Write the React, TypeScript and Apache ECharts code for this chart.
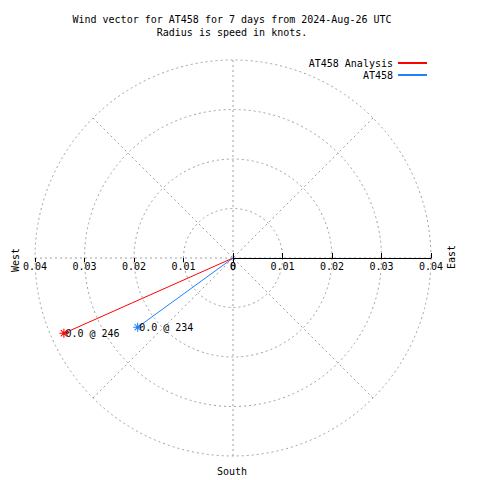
import React, { useEffect, useRef } from 'react';
import * as echarts from 'echarts';

const titleLines = ['Wind vector for AT458 for 7 days from 2024-Aug-26 UTC', 'Radius is speed in knots.'];
const seriesNames = ['AT458 Analysis', 'AT458'];
const seriesColors = ['#ff0000', '#1e80ff'];
const speeds = [0.0374, 0.0238];
const directions = [246, 234];
const speedLabels = ['0.0', '0.0'];
const radiusMin = 0;
const radiusMax = 0.04;
const radiusStep = 0.01;
const compassLabels = ['West', 'East', 'South'];

const FONT = '"DejaVu Sans Mono", monospace';
const ASTERISK =
  'path://M-0.6,-5L0.6,-5L0.6,5L-0.6,5Z M-5,-0.6L5,-0.6L5,0.6L-5,0.6Z M-3.9,-3.1L-3.1,-3.9L3.9,3.1L3.1,3.9Z M3.1,-3.9L3.9,-3.1L-3.1,3.9L-3.9,3.1Z';

const gridLine = { color: '#a0a0a0', type: [2, 3] as number[], width: 1 };
const tickFmt = (v: number) => (v === 0 ? '0' : v.toFixed(2));

export default function App() {
  const ref = useRef<HTMLDivElement>(null);
  useEffect(() => {
    if (!ref.current) return;
    const chart = echarts.init(ref.current, undefined, { renderer: 'svg' });
    const center = [233, 258];
    const radius = 198;
    const baseRadius = { type: 'value', min: radiusMin, max: radiusMax, interval: radiusStep };
    const labelStyle = { color: '#000', fontFamily: FONT, fontSize: 10 };
    chart.setOption({
      animation: false,
      backgroundColor: '#fff',
      title: {
        text: titleLines.join('\n'),
        left: 232,
        top: 13,
        padding: 0,
        textAlign: 'center',
        textStyle: { fontFamily: FONT, fontSize: 10, fontWeight: 'normal', color: '#000', lineHeight: 13 },
      },
      legend: {
        orient: 'vertical',
        right: 53,
        top: 57,
        padding: 0,
        align: 'right',
        itemWidth: 29,
        itemHeight: 2,
        itemGap: 0,
        icon: 'rect',
        data: seriesNames,
        textStyle: { fontFamily: FONT, fontSize: 10, color: '#000', lineHeight: 12 },
      },
      polar: [
        { center, radius },
        { center, radius },
        { center, radius },
        { center, radius },
      ],
      angleAxis: [
        {
          polarIndex: 0,
          type: 'value',
          startAngle: 0,
          clockwise: true,
          min: 90,
          max: 450,
          interval: 45,
          axisLine: { show: false },
          axisTick: { show: false },
          axisLabel: { show: false },
          splitLine: { show: true, lineStyle: gridLine },
        },
        { polarIndex: 1, type: 'value', startAngle: 0, min: 0, max: 360, show: false },
        { polarIndex: 2, type: 'value', startAngle: 180, min: 0, max: 360, show: false },
        { polarIndex: 3, type: 'value', startAngle: 180, min: 0, max: 360, show: false },
      ],
      radiusAxis: [
        {
          polarIndex: 0,
          ...baseRadius,
          axisLine: { show: true, lineStyle: { color: '#000', width: 1 } },
          axisTick: { show: true, length: 5, lineStyle: { color: '#000', width: 1 } },
          axisLabel: { show: true, margin: -3, align: 'center', verticalAlign: 'top', formatter: tickFmt, ...labelStyle },
          splitLine: { show: true, lineStyle: gridLine },
        },
        {
          polarIndex: 1,
          ...baseRadius,
          axisLine: { show: false },
          axisTick: { show: true, inside: true, length: 4, lineStyle: { color: '#000', width: 1 } },
          axisLabel: { show: false },
          splitLine: { show: false },
        },
        {
          polarIndex: 2,
          ...baseRadius,
          axisLine: { show: false },
          axisTick: { show: true, length: 3, lineStyle: { color: '#000', width: 1 } },
          axisLabel: { show: true, margin: 3, align: 'center', verticalAlign: 'top', formatter: tickFmt, ...labelStyle },
          splitLine: { show: false },
        },
        {
          polarIndex: 3,
          ...baseRadius,
          axisLine: { show: false },
          axisTick: { show: true, inside: true, length: 4, lineStyle: { color: '#000', width: 1 } },
          axisLabel: { show: false },
          splitLine: { show: false },
        },
      ],
      series: seriesNames.map((name, i) => ({
        name,
        type: 'line',
        coordinateSystem: 'polar',
        polarIndex: 0,
        z: 5,
        lineStyle: { color: seriesColors[i], width: 1 },
        itemStyle: { color: seriesColors[i] },
        data: [
          { value: [0, directions[i]], symbol: 'none' },
          {
            value: [speeds[i], directions[i]],
            symbol: ASTERISK,
            symbolSize: 9,
            label: {
              show: true,
              position: 'right',
              distance: -3,
              formatter: `${speedLabels[i]} @ ${directions[i]}`,
              ...labelStyle,
            },
          },
        ],
      })),
      graphic: [
        {
          type: 'text',
          x: 15,
          y: 260,
          rotation: Math.PI / 2,
          style: { text: compassLabels[0], font: `10px ${FONT}`, fill: '#000', align: 'center', verticalAlign: 'middle' },
        },
        {
          type: 'text',
          x: 451,
          y: 257,
          rotation: Math.PI / 2,
          style: { text: compassLabels[1], font: `10px ${FONT}`, fill: '#000', align: 'center', verticalAlign: 'middle' },
        },
        {
          type: 'text',
          x: 232,
          y: 471,
          style: { text: compassLabels[2], font: `10px ${FONT}`, fill: '#000', align: 'center', verticalAlign: 'middle' },
        },
      ],
    });
    return () => chart.dispose();
  }, []);
  return <div ref={ref} style={{ position: 'fixed', left: 0, top: 0, width: 480, height: 480 }} />;
}
